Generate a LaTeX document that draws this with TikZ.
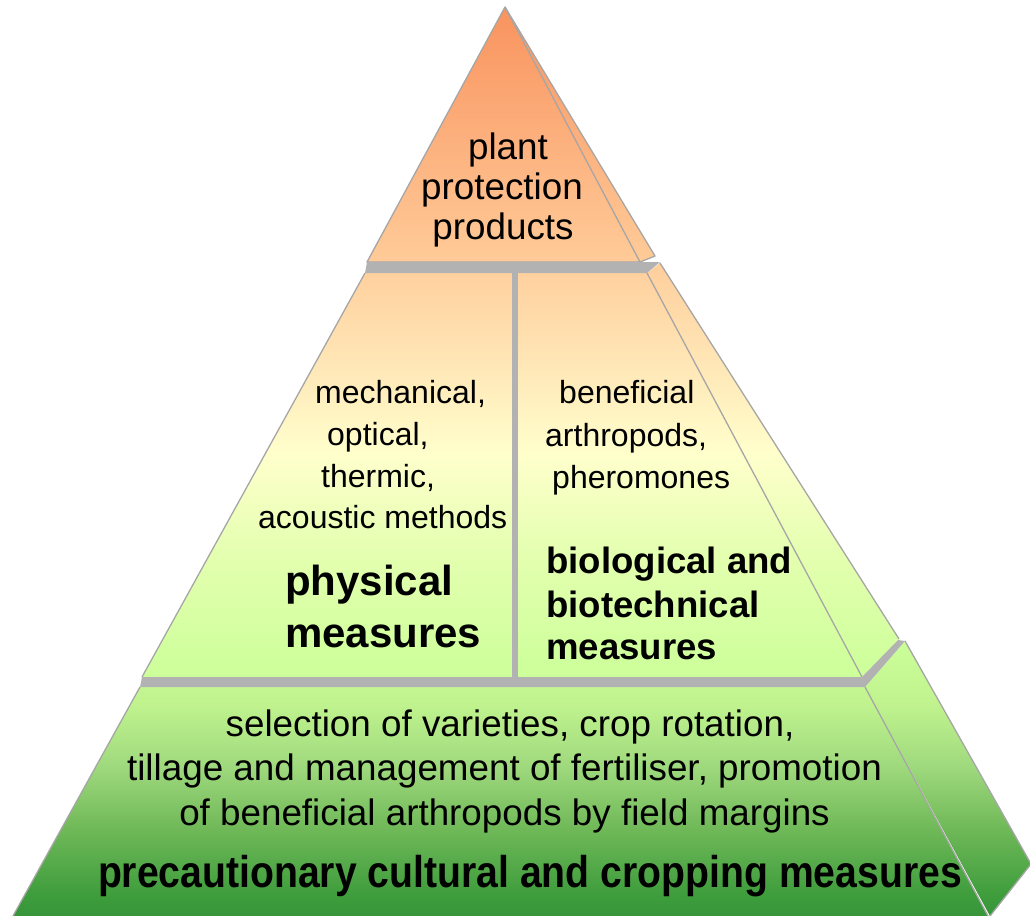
\documentclass[tikz,border=0pt]{standalone}
\usepackage{fontspec}
\setmainfont{Liberation Sans}
\newfontfamily\narrowfont[FakeStretch=0.88]{Liberation Sans}
\definecolor{edgegray}{HTML}{A6A6A6}
\definecolor{bandgray}{HTML}{B2B2B2}
\definecolor{t1a}{HTML}{F9935E}
\definecolor{t1b}{HTML}{FCAF7C}
\definecolor{t1c}{HTML}{FFCB98}
\definecolor{t2a}{HTML}{FFCE9C}
\definecolor{t2b}{HTML}{FFE6B6}
\definecolor{t2c}{HTML}{FFFFCC}
\definecolor{t2d}{HTML}{E4FFB0}
\definecolor{t2e}{HTML}{CCFF99}
\definecolor{t3a}{HTML}{CCFF99}
\definecolor{t3b}{HTML}{C0F38E}
\definecolor{t3c}{HTML}{A0DA7E}
\definecolor{t3d}{HTML}{72BA5A}
\definecolor{t3e}{HTML}{3D9C3B}
\definecolor{t3f}{HTML}{36963A}
\pgfdeclareverticalshading{tierone}{100bp}{color(0bp)=(t1c); color(25bp)=(t1c); color(50bp)=(t1b); color(75bp)=(t1a); color(100bp)=(t1a)}
\pgfdeclareverticalshading{tiertwo}{100bp}{color(0bp)=(t2e); color(25bp)=(t2e); color(40bp)=(t2d); color(52bp)=(t2c); color(63bp)=(t2b); color(75bp)=(t2a); color(100bp)=(t2a)}
\pgfdeclareverticalshading{tierthree}{100bp}{color(0bp)=(t3f); color(25bp)=(t3f); color(28.5bp)=(t3e); color(41.5bp)=(t3d); color(52.5bp)=(t3c); color(63.5bp)=(t3b); color(75bp)=(t3a); color(100bp)=(t3a)}
\begin{document}
\begin{tikzpicture}[x=1pt,y=-1pt,
  edge/.style={draw=edgegray,line width=1.3pt,line join=round},
  band/.style={fill=bandgray},
  txt/.style={inner sep=0pt,font=\fontsize{32}{38}\selectfont},
  bigtxt/.style={inner sep=0pt,font=\fontsize{36.8}{42}\selectfont},
  boldtxt/.style={inner sep=0pt,font=\fontsize{42}{48}\selectfont\bfseries},
  boldmid/.style={inner sep=0pt,font=\fontsize{36.6}{42}\selectfont\bfseries},
  boldnarrow/.style={inner sep=0pt,font=\fontsize{44.5}{50}\narrowfont\bfseries}]
\useasboundingbox (0,0) rectangle (1030,915);
% fills
\path[shading=tierone] (505,7) -- (367,262) -- (640,262) -- cycle
  (505,7) -- (655,256) -- (640,262) -- cycle;
\path[shading=tiertwo] (365,273) -- (647,273) -- (862,677) -- (142,677) -- cycle
  (647,273) -- (660,263) -- (899,639) -- (862,677) -- cycle;
\path[shading=tierthree] (140,687) -- (865,687) -- (988,916) -- (13,916) -- cycle
  (865,687) -- (905,641) -- (1031,864) -- (990,916) -- cycle;
% outlines
\path[edge] (505,7) -- (367,262) -- (640,262) -- cycle;
\path[edge] (505,7) -- (655,256) -- (640,262);
\path[edge] (365,273) -- (142,677);
\path[edge] (647,273) -- (862,677);
\path[edge] (660,263) -- (899,639);
\path[edge] (140,687) -- (13,916);
\path[edge] (865,687) -- (988,916);
\path[edge] (905,641) -- (1031,864) -- (990,916);
% gray bands
\path[band] (367,262) -- (660,262) -- (647,273) -- (365,273) -- cycle;
\path[band] (142,677) -- (862,677) -- (898,640) -- (905,641) -- (865,687) -- (140,687) -- cycle;
\path[band] (512,273) rectangle (518,677);
% top tier text
\node[bigtxt,anchor=base] (pp1) at (508,159) {plant};
\node[bigtxt,anchor=base] (pp2) at (502,199) {protection};
\node[bigtxt,anchor=base] (pp3) at (503,239) {products};
% physical
\node[txt,anchor=base west] (ph1) at (315,403) {mechanical,};
\node[txt,anchor=base west] (ph2) at (327,445) {optical,};
\node[txt,anchor=base west] (ph3) at (321,487) {thermic,};
\node[txt,anchor=base west] (ph4) at (258,528) {acoustic methods};
\node[boldtxt,anchor=base west] (ph5) at (285,595) {physical};
\node[boldtxt,anchor=base west] (ph6) at (285,647) {measures};
% biological
\node[txt,anchor=base west] (bi1) at (559,403) {beneficial};
\node[txt,anchor=base west] (bi2) at (545,446) {arthropods,};
\node[txt,anchor=base west] (bi3) at (552,488) {pheromones};
\node[boldmid,anchor=base west] (bi4) at (546,573) {biological and};
\node[boldmid,anchor=base west] (bi5) at (546,617) {biotechnical};
\node[boldmid,anchor=base west] (bi6) at (546,659) {measures};
% bottom tier
\node[bigtxt,anchor=base] (pc1) at (510,736) {selection of varieties, crop rotation,};
\node[bigtxt,anchor=base] (pc2) at (504.5,780) {tillage and management of fertiliser, promotion};
\node[bigtxt,anchor=base] (pc3) at (504.5,825) {of beneficial arthropods by field margins};
\node[boldnarrow,anchor=base] (pc4) at (530,887) {precautionary cultural and cropping measures};
\end{tikzpicture}
\end{document}
